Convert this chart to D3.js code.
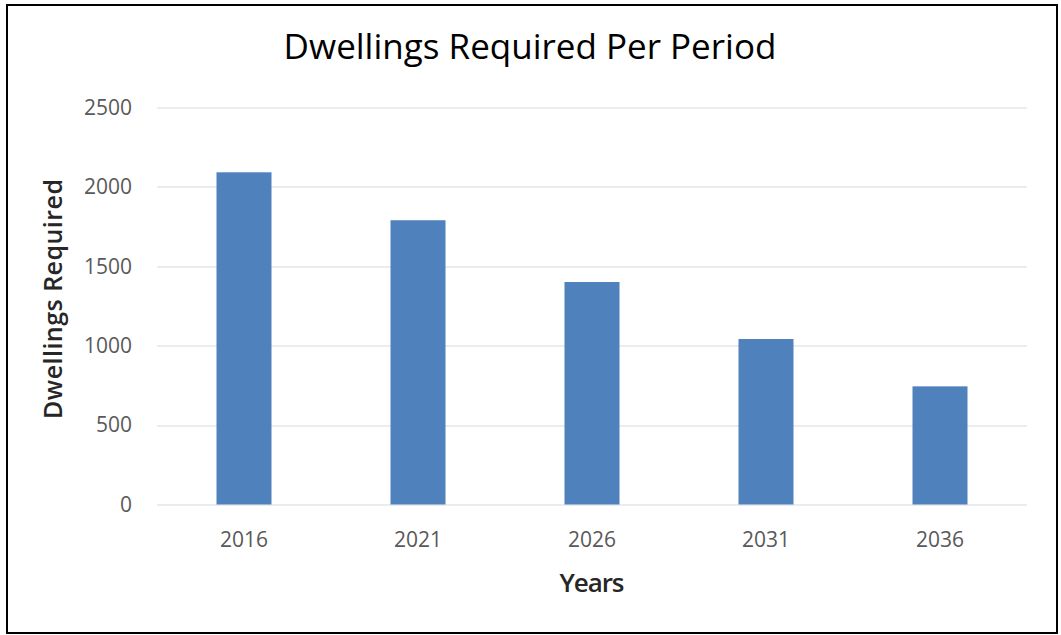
<!DOCTYPE html>
<html>
<head>
<meta charset="utf-8">
<script src="https://cdn.jsdelivr.net/npm/d3@7"></script>
<style>
  body { margin: 0; background: #fff; }
  .gv-chart text { font-family: "Open Sans", "Noto Sans", sans-serif; }
</style>
</head>
<body>
<div class="gv-chart"></div>
<script>
// data
var years = ["2016", "2021", "2026", "2031", "2036"];
var dwellings = [2092, 1790, 1401, 1042, 744];
var yTicks = [0, 500, 1000, 1500, 2000, 2500];

var W = 1061, H = 635;
var margin = {top: 107.5, right: 34, bottom: 130.5, left: 157},
    width = W - margin.left - margin.right,
    height = H - margin.top - margin.bottom;

var svg = d3.select(".gv-chart").append("svg")
    .attr("width", W).attr("height", H);

// outer frame
svg.append("rect")
    .attr("x", 7).attr("y", 5)
    .attr("width", 1050).attr("height", 628)
    .attr("fill", "none")
    .attr("stroke", "#000")
    .attr("stroke-width", 2);

var g = svg.append("g").attr("transform", "translate(" + margin.left + "," + margin.top + ")");

var x = d3.scaleBand().domain(years).range([0, width]).paddingInner(0.684).paddingOuter(0.342);
var y = d3.scaleLinear().domain([0, 2500]).range([height, 0]);

// gridlines
g.append("g").selectAll("line")
    .data(yTicks)
    .enter().append("line")
    .attr("x1", 0).attr("x2", width)
    .attr("y1", function(d){ return Math.round(y(d)) + 0.5 })
    .attr("y2", function(d){ return Math.round(y(d)) + 0.5 })
    .attr("stroke", "#d9d9d9")
    .attr("stroke-width", 1);

// bars
g.append("g").selectAll("rect")
    .data(dwellings)
    .enter().append("rect")
    .attr("x", function(d, i){ return x(years[i]) })
    .attr("y", function(d){ return y(d) })
    .attr("width", x.bandwidth())
    .attr("height", function(d){ return height - y(d) })
    .attr("fill", "#4f81bd");

// y axis (labels only)
var yAxis = g.append("g")
    .call(d3.axisLeft(y).tickValues(yTicks).tickFormat(d3.format("d")).tickSize(0).tickPadding(25));
yAxis.select(".domain").remove();
yAxis.selectAll("text")
    .attr("fill", "#595959")
    .style("font-size", "21px");

// x axis (labels only)
var xAxis = g.append("g")
    .attr("transform", "translate(0," + height + ")")
    .call(d3.axisBottom(x).tickSize(0).tickPadding(28));
xAxis.select(".domain").remove();
xAxis.selectAll("text")
    .attr("fill", "#595959")
    .style("font-size", "21px");

// titles
svg.append("text")
    .attr("x", 530).attr("y", 59)
    .attr("text-anchor", "middle")
    .attr("fill", "#000")
    .style("font-size", "35px")
    .text("Dwellings Required Per Period");

svg.append("text")
    .attr("x", 592).attr("y", 592)
    .attr("text-anchor", "middle")
    .attr("fill", "#262626")
    .style("font-size", "26px")
    .style("font-weight", "600")
    .attr("textLength", 65)
    .text("Years");

svg.append("text")
    .attr("transform", "translate(62," + 299 + ") rotate(-90)")
    .attr("text-anchor", "middle")
    .attr("fill", "#262626")
    .style("font-size", "25px")
    .style("font-weight", "600")
    .attr("textLength", 240)
    .text("Dwellings Required");
</script>
</body>
</html>
